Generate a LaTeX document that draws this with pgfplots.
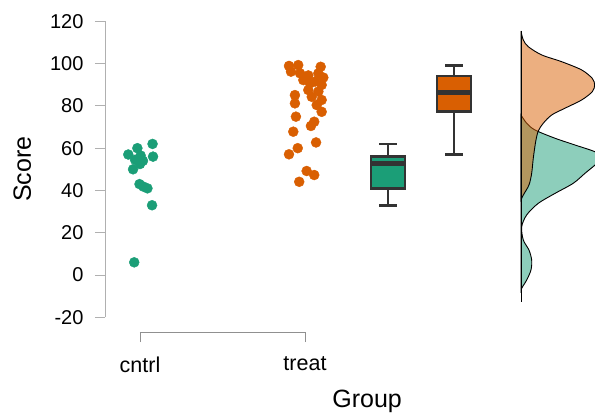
\documentclass[border=0pt]{standalone}
\usepackage{pgfplots}
\pgfplotsset{compat=1.18}
\usepackage{fontspec}
\setmainfont{Liberation Sans}
\definecolor{cgreen}{HTML}{1B9E77}
\definecolor{corange}{HTML}{D95F02}
\definecolor{boxline}{HTML}{333333}
\definecolor{axgray}{HTML}{B0B0B0}
\definecolor{xgray}{HTML}{909090}

\begin{document}
\begin{tikzpicture}
\begin{axis}[
 at={(0pt,0pt)}, anchor=south west,
 scale only axis, width=490pt, height=312.9pt,
 xmin=0.78788, xmax=3.75758, ymin=-27, ymax=121,
 clip=false,
 axis lines*=left, axis line style={draw=none},
 tick align=outside, major tick length=10pt,
 ytick style={axgray, line width=0.8pt},
 xtick style={xgray, line width=0.8pt},
 ytick={-20,0,...,120},
 xtick={1,2}, xticklabels={cntrl,treat},
 minor tick num=0,
 /pgf/number format/assume math mode=true,
 yticklabel style={font=\fontsize{20}{23}\selectfont, xshift=-8pt},
 xticklabel style={font=\fontsize{21.5}{25}\selectfont, yshift=-11pt},
 xlabel={Group}, ylabel={Score},
 label style={font=\fontsize{25}{30}\selectfont},
 xlabel style={at={(axis description cs:0.535,-0.220)}, anchor=center},
 ylabel style={at={(axis description cs:-0.169,0.521)}, anchor=center},
]
% densities
\addplot[smooth, draw=black, line width=0.9pt, fill=cgreen, fill opacity=0.5] coordinates {
(3.309,75.7) (3.3435,71.8) (3.3938,68.6) (3.5151,64.7) (3.6363,61.5) (3.7575,58.3)
(3.806,55.5) (3.7575,52) (3.6969,48.1) (3.626,43.4) (3.5151,38.6) (3.4138,33.9)
(3.3435,28.4) (3.3132,22.8) (3.3229,16.6) (3.3575,11.8) (3.3738,7.1) (3.3696,2.4)
(3.3435,-2.4) (3.3132,-6.3) (3.309,-8.5)} -- cycle;
\addplot[smooth, draw=black, line width=0.9pt, fill=corange, fill opacity=0.5] coordinates {
(3.309,115.4) (3.3229,111.2) (3.3532,108) (3.4345,104.1) (3.5557,100.9) (3.6769,97)
(3.7411,93) (3.7555,89.9) (3.7411,86.7) (3.6769,82.8) (3.5757,78.9) (3.4951,75.7)
(3.4442,71.8) (3.4138,68.1) (3.3981,63.1) (3.3835,55.2) (3.3738,48.1) (3.3575,42.6)
(3.3229,37.8) (3.309,35.5)} -- cycle;
\addplot[black, line width=0.9pt] coordinates {(3.309,-12.6) (3.309,115.4)};
% boxplot: cntrl (whiskers, box, median)
\addplot[boxline, line width=2pt] coordinates {(2.503,33) (2.503,41)};
\addplot[boxline, line width=2pt] coordinates {(2.503,56) (2.503,62)};
\addplot[boxline, line width=2.6pt] coordinates {(2.4505,33) (2.5555,33)};
\addplot[boxline, line width=2.6pt] coordinates {(2.4505,62) (2.5555,62)};
\addplot[draw=boxline, line width=2.4pt, fill=cgreen] coordinates {(2.400,41) (2.606,41) (2.606,56) (2.400,56)} -- cycle;
\addplot[boxline, line width=4.5pt] coordinates {(2.400,52.8) (2.606,52.8)};
% boxplot: treat
\addplot[boxline, line width=2pt] coordinates {(2.903,57) (2.903,77.3)};
\addplot[boxline, line width=2pt] coordinates {(2.903,94.1) (2.903,99)};
\addplot[boxline, line width=2.6pt] coordinates {(2.8505,57) (2.9555,57)};
\addplot[boxline, line width=2.6pt] coordinates {(2.8505,99) (2.9555,99)};
\addplot[draw=boxline, line width=2.4pt, fill=corange] coordinates {(2.800,77.3) (3.006,77.3) (3.006,94.1) (2.800,94.1)} -- cycle;
\addplot[boxline, line width=4.5pt] coordinates {(2.800,86.4) (3.006,86.4)};
% dots
\addplot[only marks, mark=*, mark size=5pt, color=cgreen] coordinates {
(1.076,62) (0.984,60) (0.929,57) (1.004,56.5) (1.079,56) (0.970,54.5) (1.018,54)
(1.000,52.5) (0.958,50) (0.997,43) (1.021,41.8) (1.045,41) (1.073,33) (0.965,6)};
\addplot[only marks, mark=*, mark size=5pt, color=corange] coordinates {
(1.903,98.9) (1.959,99.3) (2.095,98.5) (1.915,96.2) (1.970,95.4) (2.020,94.4)
(2.081,95.4) (2.111,93.4) (1.990,92.2) (2.030,90.7) (2.061,91.5) (2.101,89.9)
(2.020,87.5) (2.081,86.8) (1.939,85.1) (2.041,84.3) (2.101,82.8) (1.939,81.2)
(2.071,80.4) (2.101,77.2) (1.945,74.9) (2.056,72.5) (2.036,70.5) (1.929,67.8)
(2.067,62.7) (1.956,60) (1.903,57.1) (2.010,49.2) (2.056,47.3) (1.965,44.1)};
% range-frame axis lines
\draw[axgray, line width=0.8pt] (axis cs:0.78788,-20) -- (axis cs:0.78788,120);
\draw[xgray, line width=0.8pt] (axis cs:1,-27) -- (axis cs:2,-27);
\end{axis}
\pgfresetboundingbox
\path (-105pt,-83.9pt) rectangle (490pt,332.1pt);
\end{tikzpicture}
\end{document}
